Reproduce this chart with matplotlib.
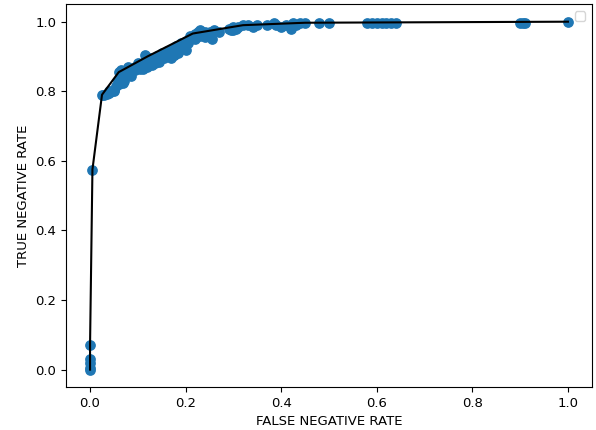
import matplotlib
matplotlib.use("Agg")
import matplotlib.pyplot as plt

# all evaluated models: (false negative rate, true negative rate)
fnr = [
    0.0, 0.0, 0.0, 0.0, 0.0, 0.005,
    0.025, 0.03, 0.035, 0.04, 0.045, 0.05, 0.04, 0.055, 0.06, 0.058,
    0.062, 0.065, 0.07, 0.06, 0.065, 0.075, 0.08, 0.085, 0.08, 0.09,
    0.095, 0.1, 0.1, 0.105, 0.11, 0.115, 0.12, 0.12, 0.115, 0.125,
    0.13, 0.135, 0.14, 0.14, 0.145, 0.15, 0.15, 0.155, 0.16, 0.16,
    0.165, 0.17, 0.175, 0.18, 0.18, 0.185, 0.19, 0.195, 0.19, 0.2,
    0.2, 0.205, 0.21, 0.21, 0.215, 0.22, 0.22, 0.225, 0.23, 0.23,
    0.24, 0.24, 0.25, 0.255, 0.26, 0.27, 0.29, 0.295, 0.3, 0.3,
    0.305, 0.31, 0.32, 0.33, 0.34, 0.35, 0.37, 0.385, 0.39, 0.4,
    0.41, 0.42, 0.425, 0.43, 0.44, 0.45, 0.48, 0.5, 0.58, 0.59,
    0.6, 0.61, 0.62, 0.63, 0.64, 0.9, 0.905, 0.91, 1.0,
    0.07, 0.085, 0.11, 0.13, 0.17, 0.12, 0.175, 0.2, 0.155, 0.185,
    0.135, 0.095, 0.105, 0.145, 0.165, 0.05, 0.068, 0.125,
]
tnr = [
    0.0, 0.005, 0.02, 0.03, 0.072, 0.575,
    0.79, 0.79, 0.792, 0.795, 0.8, 0.805, 0.8, 0.815, 0.82, 0.83,
    0.84, 0.835, 0.845, 0.855, 0.86, 0.85, 0.855, 0.86, 0.87, 0.865,
    0.87, 0.875, 0.88, 0.87, 0.88, 0.875, 0.885, 0.89, 0.905, 0.88,
    0.89, 0.885, 0.895, 0.9, 0.89, 0.9, 0.91, 0.905, 0.9, 0.915,
    0.91, 0.92, 0.905, 0.915, 0.93, 0.92, 0.925, 0.93, 0.94, 0.935,
    0.945, 0.94, 0.95, 0.96, 0.955, 0.965, 0.95, 0.97, 0.96, 0.975,
    0.97, 0.955, 0.97, 0.95, 0.975, 0.97, 0.98, 0.975, 0.985, 0.975,
    0.98, 0.985, 0.99, 0.99, 0.985, 0.99, 0.99, 0.995, 0.99, 0.985,
    0.99, 0.98, 0.995, 0.99, 0.995, 0.995, 0.995, 0.997, 0.995, 0.995,
    0.995, 0.995, 0.997, 0.997, 0.997, 0.997, 0.997, 0.997, 1.0,
    0.83, 0.845, 0.865, 0.875, 0.895, 0.87, 0.905, 0.92, 0.895, 0.91,
    0.88, 0.86, 0.865, 0.885, 0.9, 0.8, 0.825, 0.895,
]

# pareto frontier
front_fnr = [0.0, 0.0, 0.0, 0.005, 0.025, 0.06, 0.12, 0.215, 0.32, 0.45, 1.0]
front_tnr = [0.0, 0.02, 0.072, 0.575, 0.79, 0.855, 0.9, 0.966, 0.99, 0.997, 1.0]

plt.rcParams["font.size"] = 9.5

fig, ax = plt.subplots(figsize=(5.96, 4.30), dpi=100)
fig.subplots_adjust(left=0.111, right=0.993, top=0.99, bottom=0.1)

ax.scatter(fnr, tnr, s=45, color="tab:blue")
ax.plot(front_fnr, front_tnr, color="black")

ax.set_xlabel("FALSE NEGATIVE RATE")
ax.set_ylabel("TRUE NEGATIVE RATE")
ax.legend(handles=[], loc="upper right")

plt.savefig("out.png", dpi=100)
plt.close()
